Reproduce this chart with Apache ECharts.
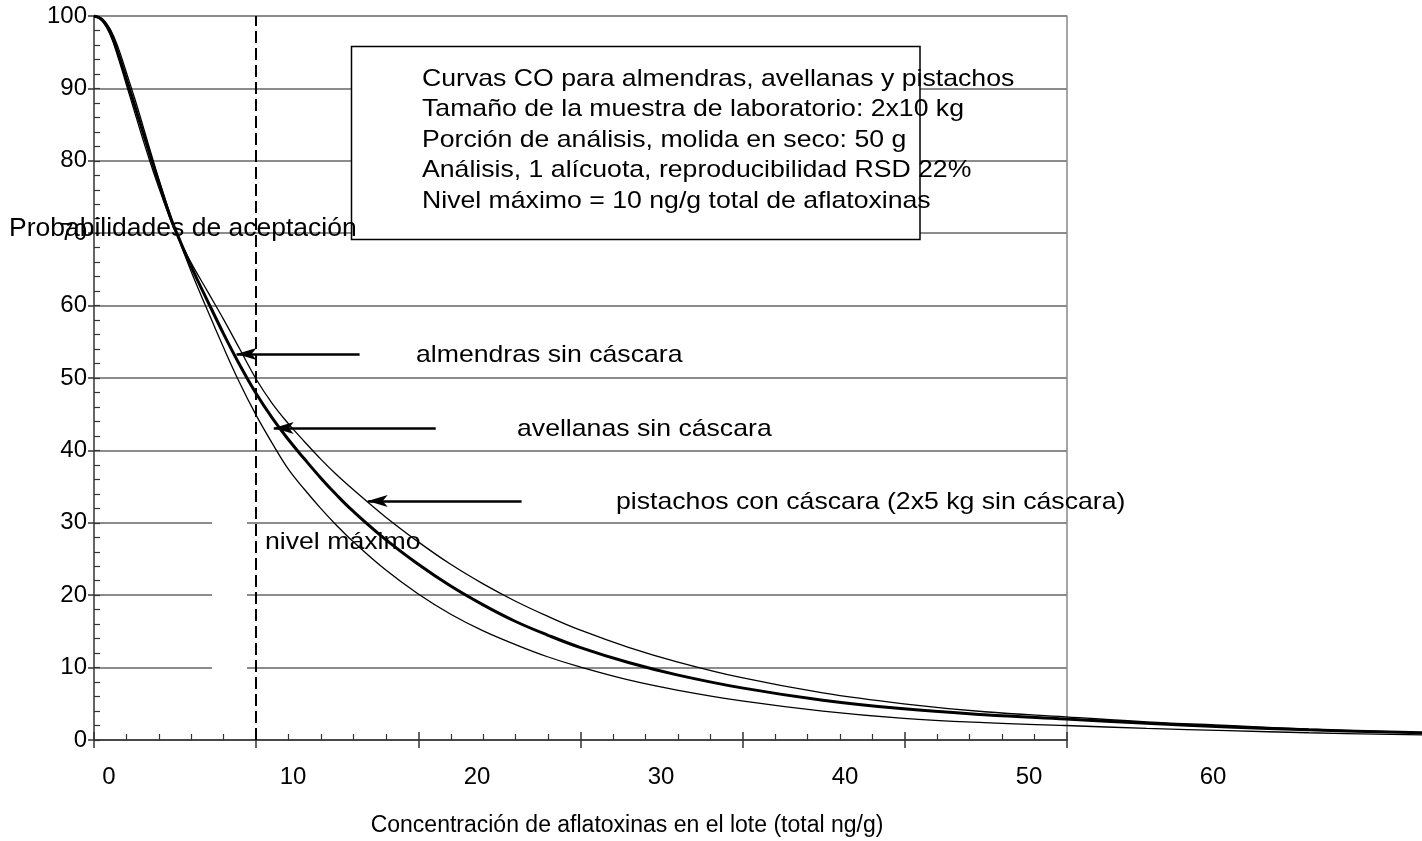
<!DOCTYPE html>
<html>
<head>
<meta charset="utf-8">
<title>Curvas CO almendras, avellanas y pistachos</title>
<script src="https://cdn.jsdelivr.net/npm/echarts@6/dist/echarts.min.js"></script>
<style>
html,body{margin:0;padding:0;background:#fff;}
#chart{width:1422px;height:841px;}
</style>
</head>
<body>
<div id="chart"></div>
<script>
// concentración de aflatoxinas en el lote (ng/g)
var conc = [0,0.5,1,1.5,2,2.5,3,3.5,4,4.5, 5,6,7,8,9,10,11,12,13,14, 15,16,18,20,22,24,26,28,30,33, 36,40,45,50,55,60,65,70,75,82];
// probabilidad de aceptación (%)
var almendras = [100,99.6,98.2,95.6,92.2,88.7,85.0,81.2,77.5,74.0, 70.6,64.7,59.4,54.2,49.3,44.9,41.0,37.4,34.6,32.0, 29.6,27.4,23.5,20.2,17.4,15.1,13.2,11.5,10.1,8.3, 6.9,5.4,4.0,3.0,2.4,2.0,1.6,1.3,1.0,0.7];
var avellanas = [100,99.5,97.8,94.8,91.3,87.7,84.1,80.5,77.0,73.6, 70.6,65.4,60.7,56.1,51.8,47.9,44.5,41.5,38.8,36.2, 33.8,31.6,27.7,24.3,21.3,18.7,16.4,14.5,12.8,10.7, 9.0,7.2,5.5,4.3,3.5,2.9,2.3,1.8,1.4,1.0];
var pistachos = [100,99.3,97.4,94.2,90.5,86.8,83.1,79.6,76.3,73.2, 70.3,65.9,62.0,58.1,54.0,49.9,46.5,43.7,41.2,38.8, 36.6,34.6,30.8,27.4,24.3,21.6,19.2,17.1,15.2,12.8, 10.8,8.6,6.5,5.0,3.9,3.2,2.5,2.0,1.5,1.0];

var nivelMaximo = 10;
// flechas: desde [x, y] hasta [x, y]
var flechaDesde = [[16.4,53.3],[21.1,43.1],[26.4,33.0]];
var flechaHasta = [[8.8,53.3],[11.1,43.1],[16.9,33.0]];

var cuadroTexto = [
    'Curvas CO para almendras, avellanas y pistachos',
    'Tamaño de la muestra de laboratorio: 2x10 kg',
    'Porción de análisis, molida en seco: 50 g',
    'Análisis, 1 alícuota, reproducibilidad RSD 22%',
    'Nivel máximo = 10 ng/g total de aflatoxinas'
];

var fuente = "'Liberation Sans', Arial, sans-serif";

function pares(ys){
    return conc.map(function(x, i){ return [x, ys[i]]; });
}

// flechas como markLine
var flechas = [];
for(var i = 0; i < flechaDesde.length; i++){
    flechas.push([
        {coord: flechaDesde[i], symbol: 'none'},
        {coord: flechaHasta[i], symbol: 'arrow', symbolSize: [9, 20]}
    ]);
}

// textos (posición en pixeles)
function texto(t, x, y, extra){
    var g = {
        type: 'text', x: x, y: y, z: 20, scaleX: 1.11, silent: true,
        style: {text: t, fill: '#000', fontSize: 24, fontFamily: fuente, align: 'left', verticalAlign: 'middle'}
    };
    if(extra){
        for(var k in extra){ g.style[k] = extra[k]; }
    }
    return g;
}

var graficos = [
    // huecos en las líneas de 10, 20 y 30
    {type: 'rect', z: 1, silent: true, shape: {x: 212, y: 512, width: 35, height: 165}, style: {fill: '#fff'}},
    // cuadro de leyenda
    {type: 'rect', z: 10, silent: true, shape: {x: 351.5, y: 46.5, width: 568.5, height: 193}, style: {fill: '#fff', stroke: '#000', lineWidth: 1.5}},
    texto('almendras sin cáscara', 416, 355),
    texto('avellanas sin cáscara', 517, 429),
    texto('pistachos con cáscara (2x5 kg sin cáscara)', 616, 502),
    texto('nivel máximo', 265, 542),
    {type: 'text', x: 627, y: 826, z: 20, silent: true,
     style: {text: 'Concentración de aflatoxinas en el lote (total ng/g)', fill: '#000', fontSize: 23, fontFamily: fuente, align: 'center', verticalAlign: 'middle'}},
    {type: 'text', x: 9, y: 229, z: 20, silent: true,
     style: {text: 'Probabilidades de aceptación', fill: '#000', fontSize: 26.5, fontFamily: fuente, align: 'left', verticalAlign: 'middle'}}
];
for(var j = 0; j < cuadroTexto.length; j++){
    graficos.push(texto(cuadroTexto[j], 422, 79 + j * 30.5));
}

var chart = echarts.init(document.getElementById('chart'));
chart.setOption({
    animation: false,
    backgroundColor: '#fff',
    textStyle: {fontFamily: fuente},
    grid: [
        {left: 94, right: 355, top: 16, bottom: 101},
        {left: 109, right: 209, top: 16, bottom: 101},
        // misma escala que la primera, pero las curvas siguen hasta el borde
        {left: 94, right: -1.8, top: 16, bottom: 101}
    ],
    xAxis: [
        {
            gridIndex: 0, type: 'value', min: 0, max: 60, interval: 10,
            axisLine: {show: true, onZero: false, lineStyle: {color: '#333', width: 1.5}},
            axisTick: {show: true, inside: true, length: 8, lineStyle: {color: '#333', width: 1.5}},
            minorTick: {show: true, splitNumber: 5, length: 6, lineStyle: {color: '#333', width: 1.2}},
            axisLabel: {show: false},
            splitLine: {show: false}
        },
        {
            // marcas hacia afuera
            gridIndex: 0, type: 'value', position: 'bottom', min: 0, max: 60, interval: 10,
            axisLine: {show: false},
            axisTick: {show: true, inside: false, length: 8, lineStyle: {color: '#333', width: 1.5}},
            axisLabel: {show: false},
            splitLine: {show: false}
        },
        {
            // etiquetas (desplazadas como en el original)
            gridIndex: 1, type: 'value', position: 'bottom', min: 0, max: 60, interval: 10,
            axisLine: {show: false},
            axisTick: {show: false},
            axisLabel: {fontSize: 24, color: '#000', fontFamily: fuente, margin: 25},
            splitLine: {show: false}
        },
        {gridIndex: 2, type: 'value', min: 0, max: 82, show: false}
    ],
    yAxis: [
        {
            gridIndex: 0, type: 'value', min: 0, max: 100, interval: 10,
            axisLine: {show: true, lineStyle: {color: '#333', width: 1.5}},
            axisTick: {show: true, inside: true, length: 6, lineStyle: {color: '#333', width: 1.2}},
            minorTick: {show: true, splitNumber: 5, length: 6, lineStyle: {color: '#333', width: 1.2}},
            axisLabel: {fontSize: 24, color: '#000', fontFamily: fuente, margin: 7},
            splitLine: {show: true, lineStyle: {color: '#666', width: 1.5}}
        },
        {
            gridIndex: 0, type: 'value', position: 'left', min: 0, max: 100, interval: 10,
            axisLine: {show: false},
            axisTick: {show: true, inside: false, length: 6, lineStyle: {color: '#333', width: 1.5}},
            axisLabel: {show: false},
            splitLine: {show: false}
        },
        {
            // borde derecho
            gridIndex: 0, type: 'value', position: 'right', min: 0, max: 100, interval: 10,
            axisLine: {show: true, lineStyle: {color: '#888', width: 1.5}},
            axisTick: {show: false},
            axisLabel: {show: false},
            splitLine: {show: false}
        },
        {gridIndex: 1, type: 'value', min: 0, max: 100, show: false},
        {gridIndex: 2, type: 'value', min: 0, max: 100, show: false}
    ],
    series: [
        {
            name: 'almendras sin cáscara', type: 'line', xAxisIndex: 3, yAxisIndex: 4,
            data: pares(almendras), symbol: 'none', smooth: 0.4,
            lineStyle: {color: '#000', width: 1.3},
            markLine: {
                silent: true, symbol: ['none', 'none'],
                label: {show: false},
                lineStyle: {color: '#000', width: 2, type: [12, 5]},
                data: [{xAxis: nivelMaximo}]
            }
        },
        {
            name: 'avellanas sin cáscara', type: 'line', xAxisIndex: 3, yAxisIndex: 4,
            data: pares(avellanas), symbol: 'none', smooth: 0.4,
            lineStyle: {color: '#000', width: 3}
        },
        {
            name: 'pistachos con cáscara', type: 'line', xAxisIndex: 3, yAxisIndex: 4,
            data: pares(pistachos), symbol: 'none', smooth: 0.4,
            lineStyle: {color: '#000', width: 1.3},
            markLine: {
                silent: true,
                label: {show: false},
                lineStyle: {color: '#000', width: 2.5, type: 'solid'},
                data: flechas
            }
        }
    ],
    graphic: graficos
});
</script>
</body>
</html>
